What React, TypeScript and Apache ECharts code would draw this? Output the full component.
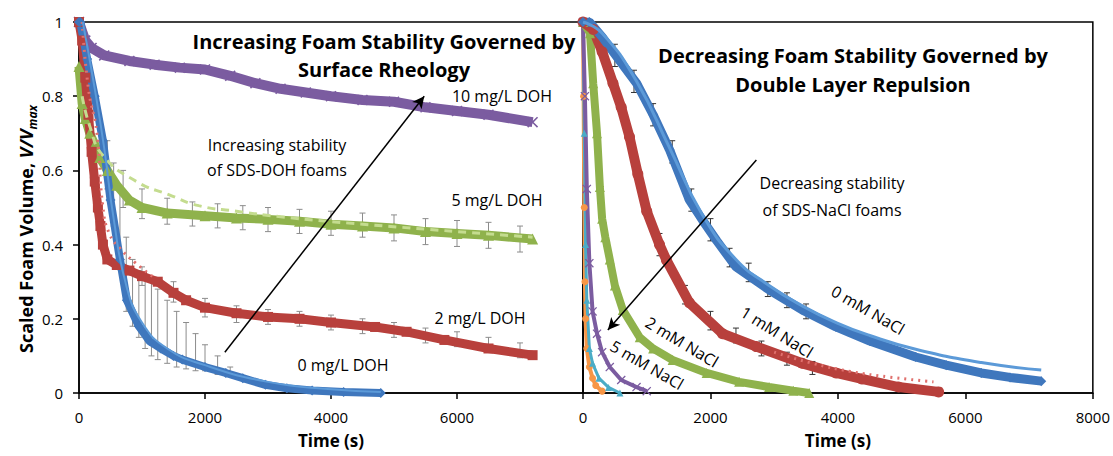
import React, { useEffect, useRef } from 'react';
import * as echarts from 'echarts';

// ---------- Left panel: SDS-DOH ----------
const doh0 = [[0,1],[20,1],[130,0.9],[250,0.8],[380,0.68],[500,0.52],[650,0.36],[760,0.25],[950,0.18],[1120,0.14],[1300,0.12],[1500,0.1],[1640,0.09],[2000,0.07],[2330,0.054],[2600,0.04],[2960,0.022],[3300,0.013],[3700,0.007],[4200,0.003],[4790,0]];
const doh0Fit = [[60,1],[250,0.82],[400,0.66],[550,0.47],[750,0.29],[1000,0.19],[1400,0.12],[2000,0.075],[3000,0.03],[4000,0.01],[4790,0.003]];
const doh2 = [[0,1],[50,0.95],[100,0.85],[150,0.75],[200,0.65],[250,0.57],[300,0.5],[340,0.45],[380,0.4],[450,0.36],[600,0.345],[800,0.33],[1000,0.315],[1250,0.3],[1500,0.27],[1700,0.25],[2000,0.23],[2500,0.215],[3000,0.205],[3500,0.2],[4000,0.19],[4700,0.178],[5200,0.165],[5800,0.143],[6500,0.12],[7200,0.102]];
const doh2Fit = [[50,1],[150,0.82],[285,0.7],[380,0.5],[480,0.43],[650,0.39],[900,0.35],[1200,0.31]];
const doh5 = [[0,0.88],[50,0.78],[100,0.74],[170,0.7],[250,0.67],[330,0.635],[450,0.6],[600,0.56],[800,0.52],[1000,0.5],[1400,0.485],[2000,0.478],[2500,0.472],[3000,0.468],[3500,0.463],[4000,0.455],[4500,0.45],[5000,0.445],[5500,0.435],[6000,0.43],[6500,0.425],[7200,0.415]];
const doh5Fit = [[50,0.8],[170,0.72],[380,0.64],[913,0.57],[1433,0.534],[1900,0.505],[2500,0.49],[3200,0.475],[4500,0.455],[7200,0.42]];
const doh10 = [[0,1],[100,0.95],[200,0.93],[400,0.91],[800,0.895],[1200,0.885],[1600,0.877],[2000,0.872],[2400,0.855],[2800,0.835],[3200,0.82],[3600,0.81],[4000,0.8],[4500,0.79],[5000,0.785],[5500,0.77],[6000,0.76],[6500,0.75],[7200,0.73]];

const doh0Err = [[450,0.55,0.68],[550,0.45,0.62],[650,0.35,0.55],[750,0.22,0.42],[850,0.18,0.36],[950,0.15,0.33],[1050,0.12,0.32],[1150,0.1,0.3],[1250,0.09,0.28],[1400,0.08,0.25],[1550,0.07,0.22],[1700,0.065,0.19],[1850,0.06,0.16],[2000,0.06,0.13],[2200,0.05,0.1],[2400,0.045,0.07]];
const doh2Err = [[1000,0.29,0.34],[1500,0.245,0.3],[2000,0.205,0.255],[2500,0.19,0.235],[3000,0.185,0.225],[3500,0.18,0.22],[4000,0.17,0.21],[4500,0.16,0.2],[5000,0.15,0.19],[5500,0.135,0.175],[6000,0.125,0.165],[6500,0.11,0.15],[7000,0.095,0.135]];
const doh5Err = [[700,0.5,0.6],[1000,0.47,0.55],[1400,0.455,0.525],[1800,0.45,0.515],[2200,0.445,0.51],[2600,0.44,0.505],[3000,0.435,0.5],[3500,0.43,0.495],[4000,0.425,0.49],[4500,0.42,0.485],[5000,0.41,0.48],[5500,0.4,0.47],[6000,0.395,0.465],[6500,0.39,0.46],[7000,0.38,0.45]];

// ---------- Right panel: SDS-NaCl ----------
const nacl0 = [[0,1],[100,1],[300,0.96],[600,0.89],[840,0.835],[1100,0.75],[1360,0.655],[1670,0.52],[1875,0.466],[2100,0.41],[2400,0.34],[2920,0.278],[3440,0.224],[3970,0.178],[4500,0.14],[5220,0.097],[5700,0.075],[6250,0.054],[6700,0.042],[7190,0.032]];
const nacl0Fit = [[0,1],[300,0.97],[840,0.84],[1360,0.66],[1875,0.48],[2400,0.36],[2920,0.29],[3440,0.235],[3970,0.19],[4500,0.155],[5220,0.118],[6250,0.082],[7190,0.062]];
const nacl1 = [[0,1],[160,0.98],[300,0.92],[470,0.835],[600,0.77],[730,0.69],[860,0.59],[1000,0.49],[1200,0.4],[1310,0.358],[1670,0.243],[2190,0.16],[2720,0.125],[3440,0.08],[3970,0.054],[4375,0.038],[4950,0.016],[5580,0.003]];
const nacl1Fit = [[3000,0.11],[3600,0.08],[4200,0.058],[4800,0.043],[5500,0.03]];
const nacl2 = [[0,1],[110,0.97],[160,0.835],[220,0.7],[265,0.555],[300,0.47],[350,0.42],[420,0.36],[500,0.29],[625,0.224],[890,0.15],[1100,0.12],[1406,0.089],[1940,0.054],[2450,0.03],[2920,0.016],[3300,0.006],[3550,0]];
const nacl5 = [[0,1],[30,0.8],[60,0.55],[100,0.35],[150,0.22],[220,0.16],[300,0.11],[420,0.07],[600,0.035],[840,0.016],[1000,0.005]];
const nacl10 = [[0,1],[20,0.7],[40,0.4],[60,0.25],[100,0.12],[150,0.08],[250,0.04],[400,0.015],[580,0]];
const nacl20 = [[0,1],[10,0.8],[20,0.5],[30,0.3],[40,0.2],[60,0.12],[100,0.07],[150,0.04],[200,0.02],[300,0.005]];

const nacl0Err = [[500,0.88,0.94],[800,0.81,0.87],[1100,0.72,0.78],[1400,0.62,0.68],[1700,0.49,0.55],[2000,0.41,0.47],[2300,0.34,0.39],[2600,0.3,0.35],[2900,0.26,0.3],[3200,0.23,0.27],[3500,0.2,0.24]];
const nacl1Err = [[1200,0.37,0.43],[1600,0.24,0.29],[2000,0.17,0.22],[2400,0.135,0.175],[2800,0.1,0.14],[3200,0.075,0.11],[3600,0.05,0.085]];

// arrows (data coordinates)
const leftArrow = [[2315, 0.11], [5480, 0.8]];
const rightArrow = [[2720, 0.628], [390, 0.17]];

const FONT = '"Open Sans", Lato, sans-serif';
const BLUE = '#3f77bd';
const RED = '#b8403c';
const GREEN = '#8fb24c';
const PURPLE = '#7b5ca0';
const CYAN = '#4bacc6';
const ORANGE = '#f79646';
const XSYM = 'path://M0,1L1,0L5,4L9,0L10,1L6,5L10,9L9,10L5,6L1,10L0,9L4,5Z';

function band(data: number[][], ai: number, color: string, symbol: string, size: number, width = 8, extra: any = {}) {
  return {
    type: 'line', xAxisIndex: ai, yAxisIndex: ai, data, symbol, symbolSize: size, showSymbol: true,
    lineStyle: { color, width }, itemStyle: { color }, z: 3, silent: true, ...extra,
  };
}
function fit(data: number[][], ai: number, color: string, type: any, width: number) {
  return {
    type: 'line', xAxisIndex: ai, yAxisIndex: ai, data, symbol: 'none', smooth: true,
    lineStyle: { color, width, type }, z: 4, silent: true,
  };
}
function err(data: number[][], ai: number, color: string) {
  return {
    type: 'custom', xAxisIndex: ai, yAxisIndex: ai, data, encode: { x: 0, y: [1, 2] }, z: 2, silent: true,
    renderItem: (params: any, api: any) => {
      const x = api.value(0);
      const lo = api.coord([x, api.value(1)]);
      const hi = api.coord([x, api.value(2)]);
      const style = { stroke: color, lineWidth: 1 };
      return {
        type: 'group', children: [
          { type: 'line', shape: { x1: lo[0], y1: lo[1], x2: hi[0], y2: hi[1] }, style },
          { type: 'line', shape: { x1: lo[0] - 3, y1: lo[1], x2: lo[0] + 3, y2: lo[1] }, style },
          { type: 'line', shape: { x1: hi[0] - 3, y1: hi[1], x2: hi[0] + 3, y2: hi[1] }, style },
        ],
      };
    },
  };
}
function arrow(pts: number[][]) {
  return {
    silent: true, symbol: ['none', 'arrow'], symbolSize: [9, 12], z: 10,
    lineStyle: { color: '#000', width: 1.5, type: 'solid' }, label: { show: false },
    data: [[{ coord: pts[0] }, { coord: pts[1] }]],
  };
}

const axisLine = { show: true, lineStyle: { color: '#000', width: 1.5 } };
const axisTick = { show: true, inside: false, length: 6, lineStyle: { color: '#000', width: 1.5 } };
const tickLabel = { color: '#000', fontFamily: FONT, fontSize: 15, formatter: (v: number) => String(v) };
const xName = { color: '#000', fontFamily: FONT, fontSize: 17, fontWeight: 'bold' };

function txt(text: string, x: number, y: number, size: number, bold = false, rot = 0) {
  return {
    type: 'text', x, y, z: 100, rotation: (rot * Math.PI) / 180, silent: true,
    style: { text, fontFamily: FONT, fontSize: size, fontWeight: bold ? 'bold' : 'normal', fill: '#000', align: 'center', verticalAlign: 'middle' },
  };
}

const option: any = {
  animation: false,
  backgroundColor: '#fff',
  grid: [
    { left: 79, top: 22, width: 504, height: 371, show: true, borderColor: '#000', borderWidth: 1.5, backgroundColor: 'transparent' },
    { left: 583, top: 22, width: 512, height: 371, show: true, borderColor: '#000', borderWidth: 1.5, backgroundColor: 'transparent' },
  ],
  xAxis: [
    { type: 'value', gridIndex: 0, min: 0, max: 8000, interval: 2000, axisLine, axisTick, splitLine: { show: false },
      axisLabel: { ...tickLabel, margin: 16, showMaxLabel: false }, name: 'Time (s)', nameLocation: 'middle', nameGap: 39, nameTextStyle: xName },
    { type: 'value', gridIndex: 1, min: 0, max: 8000, interval: 2000, axisLine, axisTick, splitLine: { show: false },
      axisLabel: { ...tickLabel, margin: 16 }, name: 'Time (s)', nameLocation: 'middle', nameGap: 39, nameTextStyle: xName },
  ],
  yAxis: [
    { type: 'value', gridIndex: 0, min: 0, max: 1, interval: 0.2, axisLine, axisTick, splitLine: { show: false },
      axisLabel: { ...tickLabel, margin: 16 } },
    { type: 'value', gridIndex: 1, min: 0, max: 1, interval: 0.2, axisLine, axisTick: { show: false }, axisLabel: { show: false }, splitLine: { show: false } },
  ],
  series: [
    err(doh0Err, 0, '#8c8c8c'),
    err(doh2Err, 0, '#8c8c8c'),
    err(doh5Err, 0, '#8c8c8c'),
    band(doh10, 0, PURPLE, XSYM, 11, 10, { markLine: arrow(leftArrow) }),
    band(doh5, 0, GREEN, 'triangle', 11, 9),
    fit(doh5Fit, 0, '#c4dc8f', [8, 6], 3),
    band(doh2, 0, RED, 'rect', 10, 9),
    fit(doh2Fit, 0, '#e0706d', [2, 5], 3),
    band(doh0, 0, BLUE, 'diamond', 10, 8),
    fit(doh0Fit, 0, '#5c9ad8', 'solid', 2),

    err(nacl0Err, 1, '#333'),
    err(nacl1Err, 1, '#333'),
    band(nacl20, 1, ORANGE, 'circle', 7, 4),
    band(nacl10, 1, CYAN, 'triangle', 7, 3),
    band(nacl5, 1, PURPLE, XSYM, 9, 4),
    band(nacl2, 1, GREEN, 'triangle', 10, 8),
    band(nacl1, 1, RED, 'circle', 11, 10),
    fit(nacl1Fit, 1, '#e0706d', [2, 5], 3),
    band(nacl0, 1, BLUE, 'diamond', 10, 9, { markLine: arrow(rightArrow) }),
    fit(nacl0Fit, 1, '#5c9ad8', 'solid', 3),
  ],
  graphic: [
    {
      type: 'text', x: 26, y: 229, z: 100, rotation: Math.PI / 2, silent: true,
      style: {
        text: '{a|Scaled Foam Volume, }{b|V/V}{c|max}', align: 'center', verticalAlign: 'middle',
        rich: {
          a: { fontFamily: FONT, fontSize: 18, fontWeight: 'bold', fill: '#000', lineHeight: 24 },
          b: { fontFamily: FONT, fontSize: 18, fontWeight: 'bold', fontStyle: 'italic', fill: '#000', lineHeight: 24 },
          c: { fontFamily: FONT, fontSize: 12, fontWeight: 'bold', fontStyle: 'italic', fill: '#000', lineHeight: 24, verticalAlign: 'bottom', padding: [9, 0, 0, 0] },
        },
      },
    },
    txt('Increasing Foam Stability Governed by', 384, 41, 20, true),
    txt('Surface Rheology', 384, 69, 20, true),
    txt('Decreasing Foam Stability Governed by', 853, 55, 20, true),
    txt('Double Layer Repulsion', 853, 84, 20, true),
    txt('Increasing stability', 277, 145, 16),
    txt('of SDS-DOH foams', 277, 170, 16),
    txt('Decreasing stability', 832, 183, 16),
    txt('of SDS-NaCl foams', 832, 210, 16),
    txt('10 mg/L DOH', 502, 96, 16),
    txt('5 mg/L DOH', 497, 200, 16),
    txt('2 mg/L DOH', 480, 318, 16),
    txt('0 mg/L DOH', 343, 365, 16),
    txt('0 mM NaCl', 868, 310, 16, false, -30),
    txt('1 mM NaCl', 777, 332, 16, false, -32),
    txt('2 mM NaCl', 682, 342, 16, false, -31),
    txt('5 mM NaCl', 647, 365, 16, false, -30),
  ],
};

export default function App() {
  const ref = useRef<HTMLDivElement>(null);
  useEffect(() => {
    document.body.style.margin = '0';
    const chart = echarts.init(ref.current!, null, { renderer: 'svg' });
    chart.setOption(option);
    return () => chart.dispose();
  }, []);
  return <div ref={ref} style={{ width: 1113, height: 456 }} />;
}
